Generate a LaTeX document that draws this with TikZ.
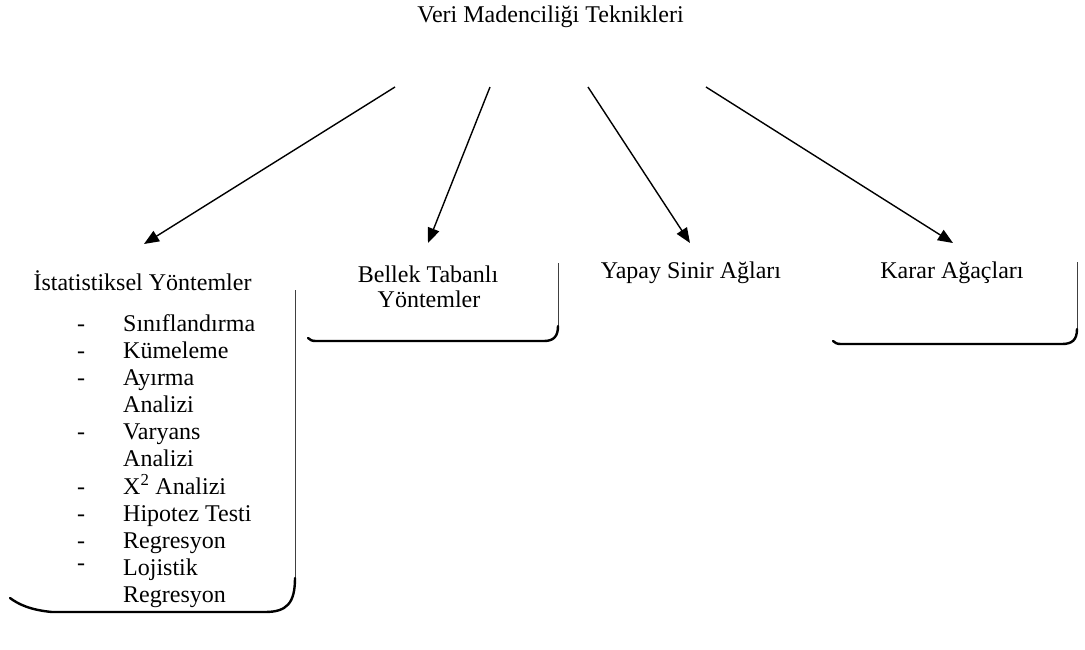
\documentclass[tikz,border=0pt]{standalone}
\usepackage{fontspec}
\setmainfont{Liberation Serif}
\usetikzlibrary{arrows.meta}
\begin{document}
\begin{tikzpicture}[x=1pt,y=-1pt,
  lbl/.style={inner sep=0pt, anchor=base, font=\fontsize{24}{27}\selectfont},
  conn/.style={line width=1.4pt, -{Triangle[length=15pt,width=12pt]}},
  edgethin/.style={line width=0.8pt, draw=black!75},
  edgethick/.style={line width=2.4pt, line cap=round}]
\useasboundingbox (0,0) rectangle (1085,649);
% title
\node[lbl] (title) at (550.5,22) {Veri Madenciliği Teknikleri};
% children
\node[lbl] (stat) at (142.5,290) {İstatistiksel Yöntemler};
\node[lbl] (bellek) at (428,282) {Bellek Tabanlı};
\node[lbl] (bellek2) at (429,307) {Yöntemler};
\node[lbl] (yapay) at (691,278) {Yapay Sinir Ağları};
\node[lbl] (karar) at (952,278) {Karar Ağaçları};
% list
\node[inner sep=0pt, anchor=north west, font=\fontsize{24}{27}\selectfont] (liste) at (77,312)
{\begin{tabular}{@{}p{46pt}@{}l@{}}
- & Sınıflandırma\\
- & Kümeleme\\
- & Ayırma\\
  & Analizi\\
- & Varyans\\
  & Analizi\\
- & X\textsuperscript{2} Analizi\\
- & Hipotez Testi\\
- & Regresyon\\
\raisebox{5pt}{-} & Lojistik\\
  & Regresyon
\end{tabular}};
% connectors
\coordinate (s1) at (395,87); \coordinate (e1) at (144,244);
\coordinate (s2) at (490,87); \coordinate (e2) at (428,243);
\coordinate (s3) at (588,87); \coordinate (e3) at (690,243);
\coordinate (s4) at (706,87); \coordinate (e4) at (953,243);
\draw[conn] (s1) -- (e1);
\draw[conn] (s2) -- (e2);
\draw[conn] (s3) -- (e3);
\draw[conn] (s4) -- (e4);
% box 1
\draw[edgethin] (295,290) -- (295,580);
\draw[edgethick] (295,578) .. controls (295,603) and (287,612) .. (265,612) -- (52,612) .. controls (30,610) and (18,604) .. (10,598);
% box 2
\draw[edgethin] (558,263) -- (558,328);
\draw[edgethick] (558,326) .. controls (558,336) and (554,341) .. (544,341) -- (316,341) .. controls (312,341) and (310,340) .. (308,338);
% box 4
\draw[edgethin] (1077,262) -- (1077,331);
\draw[edgethick] (1077,329) .. controls (1077,340) and (1072,344) .. (1062,344) -- (841,344) .. controls (837,344) and (835,343) .. (833,341);
\end{tikzpicture}
\end{document}
